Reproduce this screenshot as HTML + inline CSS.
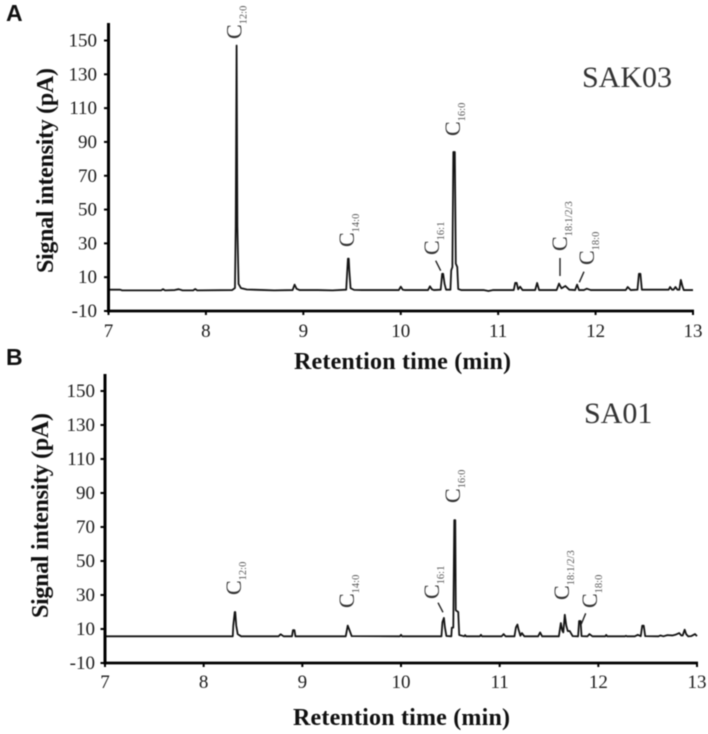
<!DOCTYPE html>
<html lang="en">
<head>
<meta charset="utf-8">
<title>Chromatograms SAK03 and SA01</title>
<style>
html,body{margin:0;padding:0;background:#fff;width:708px;height:734px;overflow:hidden}
svg{display:block;filter:blur(0.4px)}
text{font-family:"Liberation Serif",serif;fill:#1c1c1c}
.tick{font-size:19px}
.axis-title{font-size:24px;font-weight:bold;fill:#111}
.panel{font-family:"Liberation Sans",sans-serif;font-size:23px;font-weight:bold;fill:#111}
.sample{font-size:30px;fill:#333}
.peak{font-size:22px;fill:#333}
.peak .sub{font-size:10.5px;fill:#555}
.leader{stroke:#222;stroke-width:1.4;fill:none}
</style>
</head>
<body>
<svg id="chart" xmlns="http://www.w3.org/2000/svg" width="708" height="734" viewBox="0 0 708 734">
  <rect width="708" height="734" fill="#fff"/>
  <g id="plots"></g>

  <text class="panel" x="6" y="21">A</text>
  <text class="panel" x="6" y="365">B</text>
  <text class="sample" x="582" y="87">SAK03</text>
  <text class="sample" x="584" y="423">SA01</text>

  <text class="axis-title" x="294" y="369" textLength="217">Retention time (min)</text>
  <text class="axis-title" x="293" y="725" textLength="217">Retention time (min)</text>
  <text class="axis-title" transform="translate(53,273) rotate(-90)" textLength="205">Signal intensity (pA)</text>
  <text class="axis-title" transform="translate(48,618) rotate(-90)" textLength="205">Signal intensity (pA)</text>

  <g>
    <text class="peak" transform="translate(241.5,39) rotate(-90)">C<tspan class="sub" dy="5">12:0</tspan></text>
    <text class="peak" transform="translate(354,247) rotate(-90)">C<tspan class="sub" dy="5">14:0</tspan></text>
    <text class="peak" transform="translate(439,255) rotate(-90)">C<tspan class="sub" dy="5">16:1</tspan></text>
    <text class="peak" transform="translate(460,136) rotate(-90)">C<tspan class="sub" dy="5">16:0</tspan></text>
    <text class="peak" transform="translate(567,251) rotate(-90)">C<tspan class="sub" dy="5">18:1/2/3</tspan></text>
    <text class="peak" transform="translate(594,265) rotate(-90)">C<tspan class="sub" dy="5">18:0</tspan></text>
    <line class="leader" x1="435.7" y1="260.7" x2="440.7" y2="270.7"/>
    <line class="leader" x1="560" y1="258" x2="560" y2="276"/>
    <line class="leader" x1="584" y1="271.7" x2="579.3" y2="282.3"/>
  </g>
  <g>
    <text class="peak" transform="translate(241,595) rotate(-90)">C<tspan class="sub" dy="5">12:0</tspan></text>
    <text class="peak" transform="translate(354,608) rotate(-90)">C<tspan class="sub" dy="5">14:0</tspan></text>
    <text class="peak" transform="translate(439,599) rotate(-90)">C<tspan class="sub" dy="5">16:1</tspan></text>
    <text class="peak" transform="translate(460,503) rotate(-90)">C<tspan class="sub" dy="5">16:0</tspan></text>
    <text class="peak" transform="translate(569,600) rotate(-90)">C<tspan class="sub" dy="5">18:1/2/3</tspan></text>
    <text class="peak" transform="translate(597,608) rotate(-90)">C<tspan class="sub" dy="5">18:0</tspan></text>
    <line class="leader" x1="438" y1="602.7" x2="443" y2="612.3"/>
    <line class="leader" x1="585.7" y1="613.3" x2="581.3" y2="624"/>
  </g>
</svg>
<script>
const xTickLabels = [7, 8, 9, 10, 11, 12, 13];
const yTickLabels = [-10, 10, 30, 50, 70, 90, 110, 130, 150];

const timesA = [7.00,7.12,7.14,7.54,7.56,7.58,7.68,7.72,7.76,7.87,7.89,7.91,8.27,8.298,8.306,8.315,8.323,8.335,8.36,8.42,8.6,8.7,8.89,8.91,8.93,8.96,9.15,9.3,9.44,9.458,9.466,9.472,9.485,9.52,9.6,9.8,9.98,10.0,10.02,10.04,10.28,10.3,10.32,10.34,10.41,10.425,10.435,10.45,10.465,10.51,10.518,10.53,10.54,10.555,10.565,10.58,10.59,10.62,10.85,10.9,10.95,11.16,11.175,11.19,11.205,11.225,11.25,11.38,11.4,11.42,11.6,11.625,11.65,11.69,11.73,11.79,11.81,11.83,11.88,11.91,11.95,12.31,12.33,12.36,12.43,12.445,12.46,12.475,12.75,12.765,12.785,12.8,12.82,12.84,12.86,12.875,12.89,12.905,13.00];
const signalA = [2.6,2.6,2.2,2.2,2.9,2.2,2.4,2.9,2.2,2.2,3,2.2,2.4,3.6,40,147,40,6,3.5,2.7,2.4,2.2,2.4,5.6,3.2,2.4,2.4,2.2,2.6,21,21,14,3.5,2.5,2.4,2.4,2.4,4.4,2.6,2.4,2.4,4.6,2.8,2.4,2.6,12,12,6,2.6,2.6,14,16,84,84,18,16,3,2.4,2.4,1.8,2.4,2.4,6.6,6.6,2.8,4.4,2.4,2.4,6.6,2.4,2.4,6.2,3.4,4.8,2.6,2.4,5.6,2.4,2.4,3.2,2.4,2.4,4.2,2.4,2.6,12,12,2.6,2.6,4.2,2.6,2.6,4.2,2.6,2.6,8.4,5,2.4,2.4];

const timesB = [7.00,8.295,8.3,8.315,8.32,8.33,8.345,8.38,8.76,8.78,8.81,8.895,8.905,8.92,8.93,9.44,9.46,9.48,9.5,9.99,10.0,10.01,10.41,10.42,10.435,10.445,10.46,10.51,10.515,10.53,10.54,10.55,10.555,10.58,10.59,10.64,10.65,10.66,10.8,10.81,10.82,11.02,11.04,11.06,11.15,11.165,11.18,11.19,11.21,11.225,11.25,11.39,11.41,11.43,11.6,11.62,11.635,11.645,11.66,11.675,11.69,11.71,11.74,11.795,11.805,11.82,11.83,11.89,11.91,11.94,12.07,12.08,12.09,12.27,12.28,12.29,12.37,12.4,12.43,12.445,12.46,12.475,12.61,12.63,12.66,12.7,12.75,12.78,12.82,12.84,12.855,12.875,12.89,12.91,12.94,12.98,13.00];
const signalB = [5.7,5.7,12,20,20,12,7,5.7,5.7,6.9,5.7,5.7,9.3,9.3,5.7,5.7,12,9,5.8,5.7,6.6,5.7,5.7,14,16.5,11,5.9,5.7,10.8,10.8,74,74,21,20,6.5,5.7,6.4,5.7,5.7,6.6,5.7,5.7,7,5.7,5.7,11,12.6,10,6,7.6,5.7,5.7,8,5.7,5.7,13.5,9,8,18.4,12,8.8,8.8,5.8,5.7,14.7,14.7,5.8,5.7,7,5.7,5.7,6.5,5.7,5.7,6,5.7,5.7,6.6,5.8,12,12,5.8,5.7,6.2,5.7,6.4,6.2,6.6,7.6,6.2,6.2,9.6,7,5.7,5.8,7,5.8];

const svgNS = 'http://www.w3.org/2000/svg';
const plots = document.getElementById('plots');

function make(tag, attrs, parent) {
  const el = document.createElementNS(svgNS, tag);
  for (const k in attrs) el.setAttribute(k, attrs[k]);
  parent.appendChild(el);
  return el;
}

function drawPanel(suffix, left, right, bottom, tickTop, axisTop, labelRight, xLabelY, times, signal) {
  const xScale = t => left + (t - 7) / 6 * (right - left);
  const yScale = v => bottom - (v + 10) / 160 * (bottom - tickTop);

  const group = make('g', {}, plots);
  
  

  const trace = make('polyline', {
    points: times.map((t, i) => xScale(t).toFixed(2) + ',' + yScale(signal[i]).toFixed(2)).join(' '),
    fill: 'none', stroke: '#141414', 'stroke-width': '1.8', 'stroke-linejoin': 'round'
  }, group);
  
  

  const yAxis = make('line', {x1: left, x2: left, y1: axisTop, y2: bottom + 1.5, stroke: '#000', 'stroke-width': '3'}, group);
  
  

  const xAxis = make('line', {x1: left - 1.5, x2: right + 1, y1: bottom, y2: bottom, stroke: '#000', 'stroke-width': '2.8'}, group);
  
  

  yTickLabels.forEach(v => {
    const y = yScale(v);
    const tick = make('line', {x1: left - 4.5, x2: left, y1: y, y2: y, stroke: '#000', 'stroke-width': '2'}, group);
    
    
    const label = make('text', {x: labelRight, y: y + 6, 'text-anchor': 'end', class: 'tick'}, group);
    label.textContent = v;
    
    
  });

  xTickLabels.forEach(t => {
    const x = xScale(t);
    const tick = make('line', {x1: x, x2: x, y1: bottom, y2: bottom + 4, stroke: '#000', 'stroke-width': '2'}, group);
    
    
    const label = make('text', {x: x, y: xLabelY, 'text-anchor': 'middle', class: 'tick'}, group);
    label.textContent = t;
    
    
  });
}

drawPanel('a', 108.5, 693, 311, 40.5, 23, 97, 337, timesA, signalA);
drawPanel('b', 105, 697, 663, 391, 374, 95, 688, timesB, signalB);
</script>
</body>
</html>
